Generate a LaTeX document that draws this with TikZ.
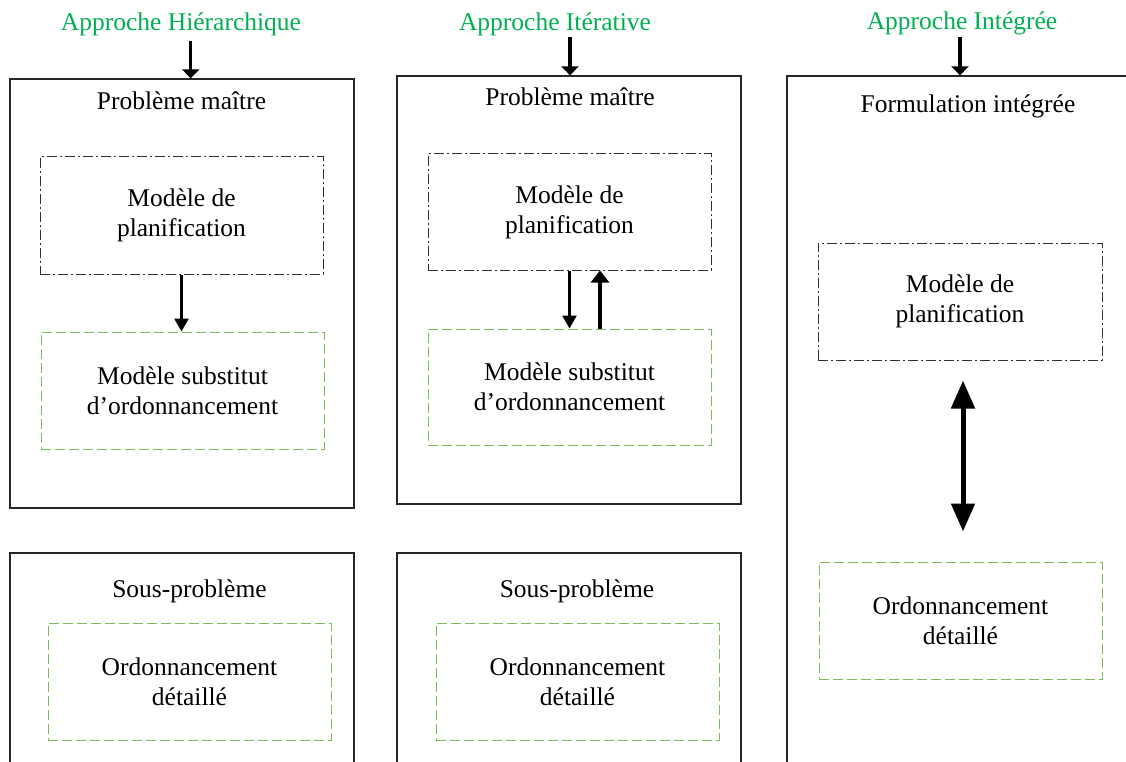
\documentclass[tikz,border=0pt]{standalone}
\usepackage{fontspec}
\setmainfont{Liberation Serif}
\usetikzlibrary{arrows.meta,calc}
\definecolor{titlegreen}{HTML}{00B050}
\definecolor{boxgreen}{HTML}{7DBB5C}
\definecolor{ddgray}{HTML}{303030}
\begin{document}
\begin{tikzpicture}[x=1pt,y=-1pt,
  every node/.style={font=\fontsize{25.5}{30}\selectfont, inner sep=0pt},
  outerbox/.style={draw=black!85, line width=1.3pt, rectangle},
  ddbox/.style={draw=ddgray, line width=1pt, dash pattern=on 10pt off 3pt on 2pt off 3pt, align=center, minimum width=283pt, minimum height=117pt},
  greenbox/.style={draw=boxgreen, line width=1pt, dash pattern=on 10pt off 4pt, align=center, minimum width=283pt, minimum height=117pt},
  ttl/.style={text=titlegreen, anchor=base},
  lbl/.style={anchor=base},
  toparrow/.style={line width=3.2pt, -{Triangle[length=9pt,width=17pt]}},
  thinarrow/.style={line width=2.6pt, -{Triangle[length=13pt,width=14pt]}},
  thickarrow/.style={line width=4pt, -{Triangle[length=12pt,width=18pt]}},
  dblarrow/.style={line width=5pt, {Triangle[length=28pt,width=23pt]}-{Triangle[length=28pt,width=23pt]}}
]
\useasboundingbox (0,0) rectangle (1126,762);
\clip (0,0) rectangle (1126,762);

% ---------- Column 1: hierarchical ----------
\node[ttl] (t1) at (181,31) {Approche Hiérarchique};
\node[outerbox, minimum width=344pt, minimum height=429pt] (o1) at (182,293.5) {};
\node[lbl] (p1) at (181.5,110) {Problème maître};
\node[ddbox] (dd1) at (181.5,215.5) {Modèle de\\planification};
\node[greenbox] (g1) at (182.5,390.5) {Modèle substitut\\d’ordonnancement};
\node[outerbox, minimum width=344pt, minimum height=260pt] (o1b) at (182,683) {};
\node[lbl] (s1) at (189.5,597) {Sous-problème};
\node[greenbox] (g1b) at (189.5,681.5) {Ordonnancement\\détaillé};

\draw[toparrow] ($(t1.south)+(9.7,4)$) -- ($(o1.north)+(8.7,0)$);
\draw[thinarrow] (dd1.south) -- (dd1.south |- g1.north);

% ---------- Column 2: iterative ----------
\node[ttl] (t2) at (555,31) {Approche Itérative};
\node[outerbox, minimum width=344pt, minimum height=428pt] (o2) at (569,290) {};
\node[lbl] (p2) at (570,106) {Problème maître};
\node[ddbox, minimum height=116pt] (dd2) at (569.5,212) {Modèle de\\planification};
\node[greenbox, minimum height=116pt] (g2) at (569.5,387) {Modèle substitut\\d’ordonnancement};
\node[outerbox, minimum width=344pt, minimum height=260pt] (o2b) at (569,683) {};
\node[lbl] (s2) at (577,597) {Sous-problème};
\node[greenbox] (g2b) at (577.5,681.5) {Ordonnancement\\détaillé};

\draw[toparrow] ($(t2.south)+(15,0)$) -- ($(o2.north)+(1,0)$);
\draw[thinarrow] (dd2.south) -- (dd2.south |- g2.north);
\draw[thickarrow] ($(g2.north)+(30.5,0)$) -- ($(dd2.south)+(30.5,0)$);

% ---------- Column 3: integrated ----------
\node[ttl] (t3) at (962,30) {Approche Intégrée};
\node[outerbox, minimum width=353pt, minimum height=724pt] (o3) at (963.5,438) {};
\node[lbl] (p3) at (968,113) {Formulation intégrée};
\node[ddbox, minimum width=284pt] (dd3) at (960,301.5) {Modèle de\\planification};
\node[greenbox] (g3) at (960.5,620.5) {Ordonnancement\\détaillé};

\draw[toparrow] ($(t3.south)+(-2,1)$) -- ($(o3.north)+(-3.5,0)$);
\draw[dblarrow] ($(dd3.south)+(3,20)$) -- ($(g3.north)+(2.5,-30)$);
\end{tikzpicture}
\end{document}
